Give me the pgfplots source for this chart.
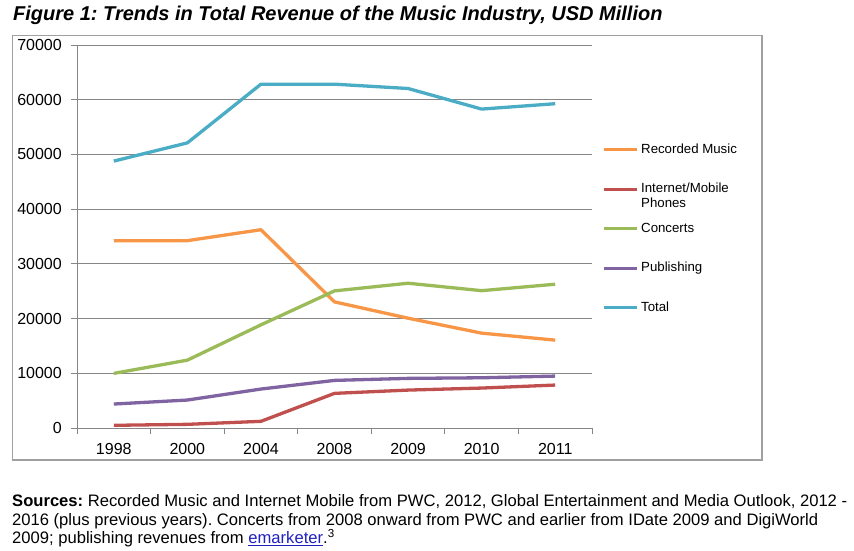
\documentclass[border=0pt]{standalone}
\usepackage{fontspec}
\setmainfont{Liberation Sans}
\usepackage{pgfplots}
\pgfplotsset{compat=1.18}
\definecolor{cTotal}{HTML}{4BACC6}
\definecolor{cRec}{HTML}{F79646}
\definecolor{cNet}{HTML}{C0504D}
\definecolor{cCon}{HTML}{9BBB59}
\definecolor{cPub}{HTML}{8064A2}
\definecolor{gridc}{HTML}{868686}
\definecolor{framec}{HTML}{A0A0A0}
\definecolor{linkc}{HTML}{2020C0}
\frenchspacing
\begin{document}
\begin{tikzpicture}
\path[use as bounding box] (0,0) rectangle (854pt,550pt);
\draw[framec, line width=1.3pt] (12.7pt,514.3pt) rectangle (762pt,90pt);
\node[anchor=base west, inner sep=0pt, font=\fontsize{20}{23}\selectfont\bfseries\itshape] at (13pt,529.3pt) {Figure 1: Trends in Total Revenue of the Music Industry, USD Million};
\node[anchor=base west, inner sep=0pt, align=left, font=\fontsize{16.6}{18.3}\selectfont] at (12pt,6.7pt) {\textbf{Sources:} Recorded Music and Internet Mobile from PWC, 2012, Global Entertainment and Media Outlook, 2012 -\\2016 (plus previous years). Concerts from 2008 onward from PWC and earlier from IDate 2009 and DigiWorld\\2009; publishing revenues from \textcolor{linkc}{\underline{emarketer}}.\textsuperscript{3}};
\begin{axis}[
  at={(77pt,122pt)}, anchor=south west,
  scale only axis, width=515pt, height=383pt,
  xmin=-0.5, xmax=6.5, ymin=0, ymax=70000,
  scaled y ticks=false,
  axis lines*=left,
  axis line style={gridc, line width=0.9pt},
  tick align=outside,
  xtick={-0.5,0.5,...,6.5},
  x tick label as interval,
  xticklabels={1998,2000,2004,2008,2009,2010,2011,},
  ytick={0,10000,...,70000},
  yticklabels={0,10000,20000,30000,40000,50000,60000,70000},
  major tick length=6pt,
  tick style={gridc, line width=0.9pt},
  ymajorgrids, grid style={gridc, line width=0.9pt},
  tick label style={font=\fontsize{16}{18}\selectfont, inner sep=0pt},
  yticklabel style={xshift=-9pt},
  xticklabel style={yshift=-9pt},
  legend style={draw=none, fill=none, at={(axis description cs:1.0194,0.752)}, anchor=north west,
    inner sep=0pt, row sep=0pt, column sep=0pt, font=\fontsize{13.25}{15}\selectfont,
    nodes={inner xsep=3pt, inner ysep=0pt, text height=13pt, text depth=26.5pt},
    cells={anchor=base west}},
  legend image code/.code={\draw[#1, line width=3pt] (0pt,0.36em) -- (33pt,0.36em);},
  every axis plot/.append style={line width=3.3pt, line join=round},
]
\addplot[cRec] coordinates {(0,34240) (1,34240) (2,36240) (3,23050) (4,20070) (5,17340) (6,16060)};
\addlegendentry{Recorded Music}
\addplot[cNet] coordinates {(0,490) (1,670) (2,1220) (3,6330) (4,6930) (5,7300) (6,7850)};
\addlegendentry{\begin{tabular}[t]{@{}l@{}}Internet/Mobile\\Phones\end{tabular}}
\addplot[cCon] coordinates {(0,9980) (1,12400) (2,18850) (3,25060) (4,26460) (5,25100) (6,26280)};
\addlegendentry{Concerts}
\addplot[cPub] coordinates {(0,4380) (1,5110) (2,7120) (3,8700) (4,9070) (5,9180) (6,9490)};
\addlegendentry{Publishing}
\addplot[cTotal] coordinates {(0,48780) (1,52110) (2,62840) (3,62840) (4,62050) (5,58290) (6,59270)};
\addlegendentry{Total}
\end{axis}
\end{tikzpicture}
\end{document}
